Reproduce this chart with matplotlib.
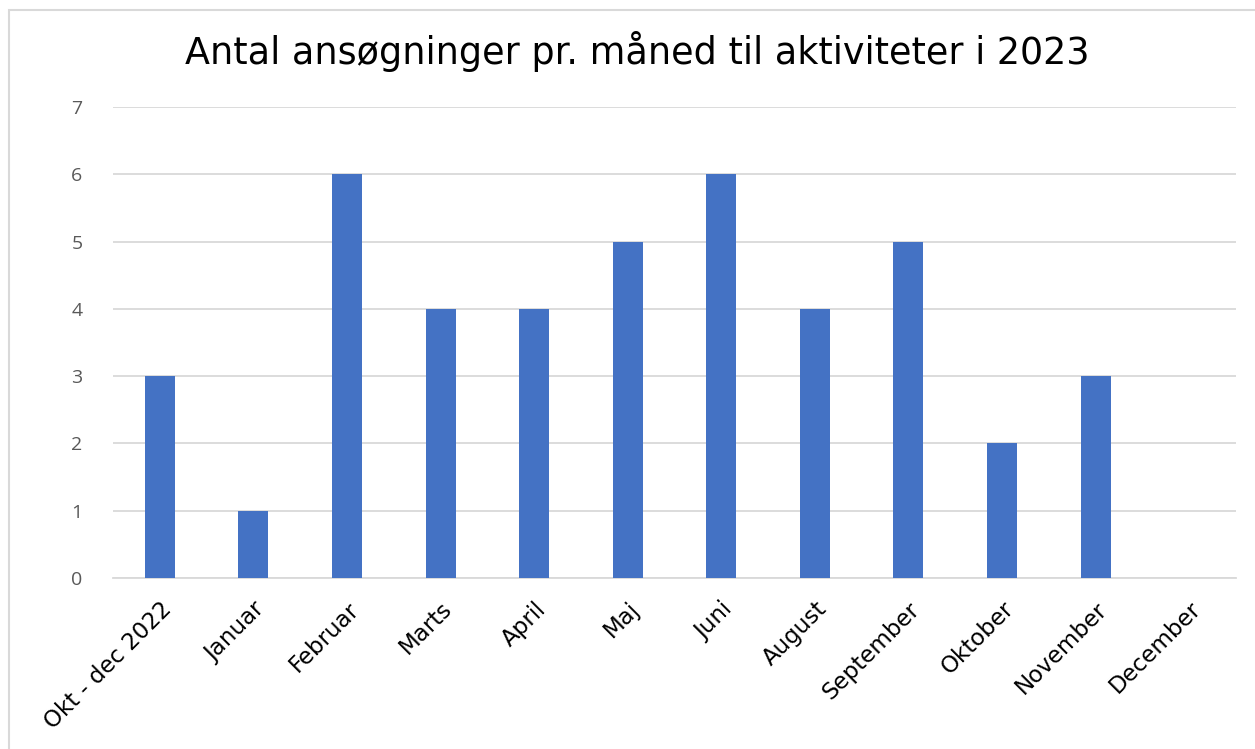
import matplotlib
matplotlib.use("Agg")
from matplotlib import pyplot as plt
from matplotlib.patches import Rectangle

months = ["Okt - dec 2022", "Januar", "Februar", "Marts", "April", "Maj",
          "Juni", "August", "September", "Oktober", "November", "December"]
counts = [3, 1, 6, 4, 4, 5, 6, 4, 5, 2, 3, 0]

W, H = 1255, 749
fig = plt.figure(figsize=(W / 100, H / 100), dpi=100)
fig.patch.set_facecolor("white")

# chart border (only left and top edges are visible in the original)
fig.add_artist(Rectangle((9 / W, -0.05), 1.2, (H - 10) / H + 0.05,
                         transform=fig.transFigure, fill=False,
                         edgecolor="#d9d9d9", linewidth=1.5))

ax = fig.add_axes([113 / W, 1 - 578 / H, (1236 - 113) / W, (578 - 107) / H])
x = range(len(months))
ax.bar(x, counts, width=0.32, color="#4472c4", zorder=3)

ax.set_xlim(-0.5, len(months) - 0.5)
ax.set_ylim(0, 7)
ax.set_yticks(range(0, 8))
ax.yaxis.grid(True, color="#d9d9d9", linewidth=1.3, zorder=0)
for s in ["top", "right", "left"]:
    ax.spines[s].set_visible(False)
ax.spines["bottom"].set_color("#d9d9d9")
ax.spines["bottom"].set_linewidth(1.3)
ax.tick_params(axis="both", length=0)
ax.tick_params(axis="y", labelsize=14, labelcolor="#595959", pad=22)
ax.tick_params(axis="x", pad=14)

ax.set_xticks(list(x))
ax.set_xticklabels(months, rotation=45, ha="right", rotation_mode="anchor",
                   fontsize=16.5, family="DejaVu Sans")
for lab in ax.get_yticklabels():
    lab.set_family("Open Sans")

fig.text(637 / W, 1 - 52 / H, "Antal ansøgninger pr. måned til aktiviteter i 2023",
         ha="center", va="center", fontsize=26.3, family="DejaVu Sans",
         color="black")

fig.savefig("out.png", dpi=100)
